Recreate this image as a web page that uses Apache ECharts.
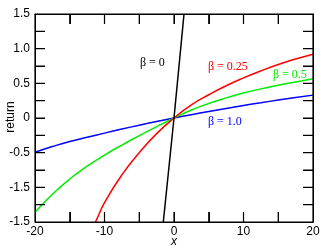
<!DOCTYPE html>
<html>
<head>
<meta charset="utf-8">
<script src="https://cdn.jsdelivr.net/npm/echarts@6/dist/echarts.min.js"></script>
<style>
html,body{margin:0;padding:0;background:#fff;}
#c{width:330px;height:250px;}
</style>
</head>
<body>
<div id="c"></div>
<script>
// ---- data ----
var xTickLabels = {"-20":"-20","-10":"-10","0":"0","10":"10","20":"20"};
var yTickLabels = {"1.5":"1.5","1":"1.0","0.5":"0.5","0":"0","-0.5":"-0.5","-1":"-1.5","-1.5":"-1.5"};
var xTickVals = [-15,-10,-5,0,5,10,15];
var yTickVals = [-1.25,-1,-0.75,-0.5,-0.25,0,0.25,0.5,0.75,1,1.25];
var xTitle = "x";
var yTitle = "return";

var gridX  = [-20,-17.5,-15,-12.5,-10,-7.5,-5,-2.5,0,2.5,5,7.5,10,12.5,15,17.5,20];
var blueY  = [-0.495,-0.412,-0.338,-0.278,-0.218,-0.16,-0.104,-0.051,0,0.048,0.094,0.138,0.18,0.22,0.259,0.295,0.33];
var greenY = [-1.36,-1.10,-0.88,-0.695,-0.535,-0.39,-0.255,-0.125,0,0.115,0.21,0.29,0.36,0.42,0.472,0.52,0.565];
var redX   = [-12,-11.3,-10,-7.5,-5,-2.5,0,2.5,5,7.5,10,12.5,15,17.5,20];
var redY   = [-1.62,-1.5,-1.22,-0.82,-0.50,-0.225,0,0.19,0.335,0.465,0.578,0.68,0.772,0.85,0.92];
var blackX = [-1.54,0,1.44];
var blackY = [-1.5,0,1.5];

var seriesLabels = ["\u03b2 = 0","\u03b2 = 0.25","\u03b2 = 0.5","\u03b2 = 1.0"];

var X_MIN = -20, X_MAX = 20, Y_MIN = -1.5, Y_MAX = 1.5;
var GRID = {left:35, right:17, top:14, bottom:28};
var W = 330, H = 250, TICK_PX = 10;
// tick length converted into axis units through the plot size
var tickDX = TICK_PX * (X_MAX - X_MIN) / (W - GRID.left - GRID.right);
var tickDY = TICK_PX * (Y_MAX - Y_MIN) / (H - GRID.top - GRID.bottom);

function pairs(xs, ys){ return xs.map(function(x,i){ return [x, ys[i]]; }); }

// frame and inward ticks, built from the axis ranges and tick values
var frameData = [[X_MIN,Y_MIN],[X_MAX,Y_MIN],[X_MAX,Y_MAX],[X_MIN,Y_MAX],[X_MIN,Y_MIN]];
var tickData = [];
xTickVals.forEach(function(v){
  tickData.push([v, Y_MIN],[v, Y_MIN + tickDY],[v, null]);
  tickData.push([v, Y_MAX],[v, Y_MAX - tickDY],[v, null]);
});
yTickVals.forEach(function(v){
  tickData.push([X_MIN, v],[X_MIN + tickDX, v],[X_MIN, null]);
  tickData.push([X_MAX, v],[X_MAX - tickDX, v],[X_MAX, null]);
});

var chart = echarts.init(document.getElementById('c'), null, {renderer:'canvas'});
function axisCommon(){
  return {
    axisLine:{show:true, onZero:false, lineStyle:{color:'#000', width:1}},
    axisTick:{show:true, inside:true, length:TICK_PX, lineStyle:{color:'#000', width:1}},
    splitLine:{show:false}
  };
}
var option = {
  animation:false,
  backgroundColor:'#fff',
  grid:{left:GRID.left, right:GRID.right, top:GRID.top, bottom:GRID.bottom, containLabel:false},
  xAxis:[
    Object.assign({type:'value', min:X_MIN, max:X_MAX, interval:5, position:'bottom',
      axisLabel:{show:true, margin:4, fontFamily:'Liberation Sans', fontSize:12, color:'#000',
        showMinLabel:true, showMaxLabel:true,
        formatter:function(v){ var k=String(Math.round(v)); return xTickLabels[k]!==undefined?xTickLabels[k]:''; }}
    }, axisCommon()),
    Object.assign({type:'value', min:X_MIN, max:X_MAX, interval:5, position:'top', axisLabel:{show:false}}, axisCommon())
  ],
  yAxis:[
    Object.assign({type:'value', min:Y_MIN, max:Y_MAX, interval:0.25, position:'left',
      axisLabel:{show:true, margin:5, fontFamily:'Liberation Sans', fontSize:12, color:'#000',
        showMinLabel:true, showMaxLabel:true,
        formatter:function(v){ var k=String(Math.round(v*100)/100); return yTickLabels[k]!==undefined?yTickLabels[k]:''; }}
    }, axisCommon()),
    Object.assign({type:'value', min:Y_MIN, max:Y_MAX, interval:0.25, position:'right', axisLabel:{show:false}}, axisCommon())
  ],
  series:[
    {type:'line', name:'frame', data:frameData, symbol:'none', clip:false, silent:true, z:5,
      lineStyle:{color:'#000', width:1.2}},
    {type:'line', name:'ticks', data:tickData, symbol:'none', clip:false, silent:true, connectNulls:false, z:5,
      lineStyle:{color:'#000', width:1.2}},
    {type:'line', name:seriesLabels[3], data:pairs(gridX, blueY), smooth:true, symbol:'none', clip:true,
      lineStyle:{color:'#0000ff', width:1.5}},
    {type:'line', name:seriesLabels[2], data:pairs(gridX, greenY), smooth:true, symbol:'none', clip:true,
      lineStyle:{color:'#00ee00', width:1.5}},
    {type:'line', name:seriesLabels[1], data:pairs(redX, redY), smooth:true, symbol:'none', clip:true,
      lineStyle:{color:'#ff0000', width:1.5}},
    {type:'line', name:seriesLabels[0], data:pairs(blackX, blackY), smooth:false, symbol:'none', clip:true,
      lineStyle:{color:'#000000', width:1.5}}
  ],
  graphic:[
    {type:'text', x:174, y:242, style:{text:xTitle, fill:'#000', font:'italic 12px "Liberation Sans"', align:'center', verticalAlign:'middle'}},
    {type:'text', x:11, y:117, rotation:Math.PI/2, style:{text:yTitle, fill:'#000', font:'12px "Liberation Sans"', align:'center', verticalAlign:'middle'}},
    {type:'text', left:140, top:57, style:{text:seriesLabels[0], fill:'#000', font:'12px "Liberation Serif"'}},
    {type:'text', left:208, top:61, style:{text:seriesLabels[1], fill:'#ff0000', font:'12px "Liberation Serif"'}},
    {type:'text', left:273, top:69, style:{text:seriesLabels[2], fill:'#00ee00', font:'12px "Liberation Serif"'}},
    {type:'text', left:208, top:116, style:{text:seriesLabels[3], fill:'#0000ff', font:'12px "Liberation Serif"'}}
  ]
};
chart.setOption(option);
</script>
</body>
</html>
